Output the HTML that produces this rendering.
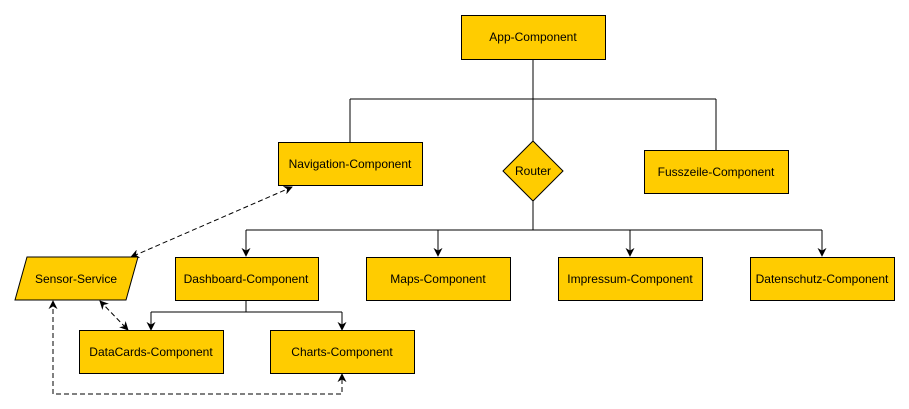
<html><body style="margin:0;background:#fff">
<svg width="909" height="409" xmlns="http://www.w3.org/2000/svg" style="display:block">
<defs><marker id="a" viewBox="0 0 10 10" refX="9" refY="5" markerWidth="9" markerHeight="9" orient="auto-start-reverse"><path d="M0,0 L10,5 L0,10 L3,5z" fill="#000"/></marker></defs>
<g stroke="#000" fill="none" stroke-width="1">
<path d="M533 59V99M350 99H716M350 99V142M716 99V150M533 99V141"/>
<path d="M533 201V230M246 230H822"/>
<path d="M246 230V256" marker-end="url(#a)"/><path d="M438 230V256" marker-end="url(#a)"/>
<path d="M630 230V256" marker-end="url(#a)"/><path d="M822 230V256" marker-end="url(#a)"/>
<path d="M246 300V312M151 312H342"/>
<path d="M151 312V330" marker-end="url(#a)"/><path d="M342 312V330" marker-end="url(#a)"/>
<g stroke-dasharray="5,3">
<path d="M292 187L131 257" marker-start="url(#a)" marker-end="url(#a)"/>
<path d="M100 301L128 330" marker-start="url(#a)" marker-end="url(#a)"/>
<path d="M53 301V394H342V374" marker-start="url(#a)" marker-end="url(#a)"/>
</g>
</g>
<g fill="#ffcc00" stroke="#000">
<rect x="461.5" y="15.5" width="144" height="44"/>
<rect x="278.5" y="142.5" width="144" height="43"/>
<rect x="644.5" y="150.5" width="144" height="43"/>
<path d="M533 141L563 171L533 201L503 171Z"/>
<path d="M27 257H138L126 300H15Z"/>
<rect x="175.5" y="257.5" width="143" height="43"/>
<rect x="366.5" y="257.5" width="144" height="43"/>
<rect x="558.5" y="257.5" width="144" height="43"/>
<rect x="750.5" y="257.5" width="144" height="43"/>
<rect x="79.5" y="330.5" width="144" height="43"/>
<rect x="270.5" y="330.5" width="144" height="43"/>
</g>
<g font-family="Liberation Sans, sans-serif" font-size="12" text-anchor="middle" fill="#000">
<text x="533" y="41">App-Component</text>
<text x="350" y="168">Navigation-Component</text>
<text x="716" y="176">Fusszeile-Component</text>
<text x="533" y="175">Router</text>
<text x="76" y="283">Sensor-Service</text>
<text x="246" y="283">Dashboard-Component</text>
<text x="438" y="283">Maps-Component</text>
<text x="630" y="283">Impressum-Component</text>
<text x="822" y="283">Datenschutz-Component</text>
<text x="151" y="356">DataCards-Component</text>
<text x="342" y="356">Charts-Component</text>
</g>
</svg>
</body></html>
